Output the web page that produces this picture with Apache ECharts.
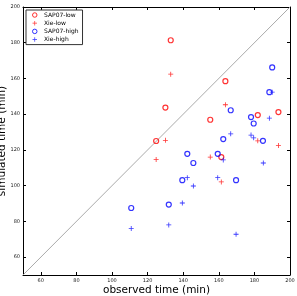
<!DOCTYPE html>
<html>
<head>
<meta charset="UTF-8">
<title>observed vs simulated</title>
<script src="https://cdn.jsdelivr.net/npm/echarts@6/dist/echarts.min.js"></script>
<style>
  html, body { margin: 0; padding: 0; background: #fff; }
  #chart { width: 297px; height: 296px; }
</style>
</head>
<body>
<div id="chart"></div>
<script>
// tick values shown on both axes
var tickValues = [60, 80, 100, 120, 140, 160, 180, 200];

// observed / simulated pairs
var sapLow = [
  [133, 181.4], [163.7, 158.5], [130, 143.7], [155.2, 136.9],
  [181.9, 139.5], [193.5, 141.2], [124.8, 125], [161.4, 116]
];
var xieLow = [
  [133, 162.4], [163.7, 145.3], [130, 125.4], [181.9, 125.1],
  [193.5, 122.5], [124.8, 114.6], [155.2, 116], [161.4, 102.1]
];
var sapHigh = [
  [190, 166.2], [188.4, 152.3], [166.7, 142.2], [178.1, 138.4],
  [179.6, 134.8], [162.5, 126.1], [184.8, 125.1], [142.3, 117.8],
  [159.4, 117.8], [145.7, 112.7], [139.5, 103.1], [169.7, 103.1],
  [131.9, 89.4], [110.8, 87.5]
];
var xieHigh = [
  [190, 152.3], [188.4, 137.8], [166.7, 129], [178.1, 128.3],
  [179.6, 126.8], [162.5, 114.4], [185, 112.7], [142.3, 104.5],
  [159.4, 104.5], [145.7, 99.8], [139.5, 90.3], [169.7, 72.8],
  [131.9, 78], [110.8, 76]
];
var diagonal = [[50, 50], [200, 200]];

var plusPath = 'path://M0.42,0H0.58V0.42H1V0.58H0.58V1H0.42V0.58H0V0.42H0.42Z';

function mkAxis(pos, showLabel) {
  return {
    type: 'value', min: 50, max: 200, position: pos,
    axisLine: { show: true, onZero: false, lineStyle: { color: '#000', width: 1 } },
    axisTick: { show: true, inside: true, length: 3, customValues: tickValues, lineStyle: { color: '#000' } },
    axisLabel: { show: showLabel, customValues: tickValues, fontSize: 5, color: '#222', margin: 3, fontFamily: 'DejaVu Sans' },
    splitLine: { show: false }
  };
}

var xa = mkAxis('bottom', true);
xa.name = 'observed time (min)';
xa.nameLocation = 'middle';
xa.nameGap = 10;
xa.nameMoveOverlap = false;
xa.nameTextStyle = { fontSize: 10.5, color: '#000', fontFamily: 'DejaVu Sans' };
var ya = mkAxis('left', true);
ya.name = 'simulated time (min)';
ya.nameLocation = 'middle';
ya.nameGap = 15.5;
ya.nameMoveOverlap = false;
ya.nameTextStyle = { fontSize: 10.5, color: '#000', fontFamily: 'DejaVu Sans' };

var chart = echarts.init(document.getElementById('chart'));
chart.setOption({
  animation: false,
  grid: { left: 23, right: 7, top: 7, bottom: 21, outerBoundsMode: 'none', containLabel: false },
  xAxis: [xa, mkAxis('top', false)],
  yAxis: [ya, mkAxis('right', false)],
  legend: {
    orient: 'vertical', left: 26, top: 10,
    itemWidth: 4.5, itemHeight: 4.5, itemGap: 2.2,
    padding: [2, 4, 2, 6],
    borderColor: '#333', borderWidth: 1,
    itemStyle: { borderWidth: 1 },
    textStyle: { fontSize: 6, color: '#000', fontFamily: 'DejaVu Sans', padding: [0, 0, 0, 2] },
    data: ['SAP07-low', 'Xie-low', 'SAP07-high', 'Xie-high']
  },
  series: [
    {
      type: 'line', data: diagonal, xAxisIndex: 0, yAxisIndex: 0,
      symbol: 'none', silent: true,
      lineStyle: { color: '#aaa', width: 1 }, z: 1
    },
    {
      name: 'SAP07-low', type: 'scatter', data: sapLow,
      symbol: 'circle', symbolSize: 5,
      itemStyle: { color: 'rgba(0,0,0,0)', borderColor: '#f00', borderWidth: 1.2 }
    },
    {
      name: 'Xie-low', type: 'scatter', data: xieLow,
      symbol: plusPath, symbolSize: 5,
      itemStyle: { color: '#f00' }
    },
    {
      name: 'SAP07-high', type: 'scatter', data: sapHigh,
      symbol: 'circle', symbolSize: 5,
      itemStyle: { color: 'rgba(0,0,0,0)', borderColor: '#00f', borderWidth: 1.2 }
    },
    {
      name: 'Xie-high', type: 'scatter', data: xieHigh,
      symbol: plusPath, symbolSize: 5,
      itemStyle: { color: '#00f' }
    }
  ]
});
</script>
</body>
</html>
